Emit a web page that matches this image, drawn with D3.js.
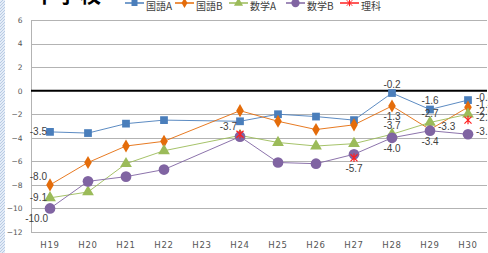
<!DOCTYPE html>
<html>
<head>
<meta charset="utf-8">
<script src="https://cdn.jsdelivr.net/npm/d3@7"></script>
<style>
  html, body { margin: 0; padding: 0; background: #fff; }
  svg { display: block; }
</style>
</head>
<body>
<svg width="488" height="253"></svg>
<script>
const categories = ['H19', 'H20', 'H21', 'H22', 'H23', 'H24', 'H25', 'H26', 'H27', 'H28', 'H29', 'H30'];
const seriesNames = ['国語A', '国語B', '数学A', '数学B', '理科'];
const kokugoA = [-3.5, -3.6, -2.8, -2.5, null, -2.6, -2.0, -2.2, -2.5, -0.2, -1.6, -0.8];
const kokugoB = [-8.0, -6.1, -4.7, -4.3, null, -1.7, -2.6, -3.3, -2.9, -1.3, -3.3, -1.4];
const sugakuA = [-9.1, -8.6, -6.2, -5.1, null, -3.8, -4.4, -4.7, -4.5, -3.7, -2.7, -2.0];
const sugakuB = [-10.0, -7.7, -7.3, -6.7, null, -3.9, -6.1, -6.2, -5.4, -4.0, -3.4, -3.7];
const rika = [null, null, null, null, null, -3.7, null, null, -5.7, null, null, -2.5];
const yTicks = [6, 4, 2, 0, -2, -4, -6, -8, -10, -12];

// which points carry a data label, and on which side
const labels = [
  { series: 0, cat: 'H19', pos: 'left' }, { series: 1, cat: 'H19', pos: 'leftUp' },
  { series: 2, cat: 'H19', pos: 'left' }, { series: 3, cat: 'H19', pos: 'leftDown' },
  { series: 4, cat: 'H24', pos: 'leftUp' }, { series: 4, cat: 'H27', pos: 'below' },
  { series: 0, cat: 'H28', pos: 'above' }, { series: 1, cat: 'H28', pos: 'below' },
  { series: 2, cat: 'H28', pos: 'above' }, { series: 3, cat: 'H28', pos: 'below' },
  { series: 0, cat: 'H29', pos: 'above' }, { series: 2, cat: 'H29', pos: 'above' },
  { series: 1, cat: 'H29', pos: 'right' }, { series: 3, cat: 'H29', pos: 'below' },
  { series: 0, cat: 'H30', pos: 'right' }, { series: 1, cat: 'H30', pos: 'right' },
  { series: 2, cat: 'H30', pos: 'right' }, { series: 4, cat: 'H30', pos: 'right' },
  { series: 3, cat: 'H30', pos: 'right' }
];

// Excel style star marker for 理科
const asterisk = {
  draw(context, size) {
    const r = Math.sqrt(size) / 2;
    context.moveTo(-r, -r); context.lineTo(r, r);
    context.moveTo(-r, r); context.lineTo(r, -r);
    context.moveTo(0, -r * 1.2); context.lineTo(0, r * 1.2);
  }
};

const colors = ['#4a7ebb', '#e46c0a', '#9bbb59', '#8064a2', '#ff2020'];
const symbols = [d3.symbolSquare, d3.symbolDiamond, d3.symbolTriangle, d3.symbolCircle, asterisk];
const symbolSizes = [60, 50, 60, 90, 50];
const values = [kokugoA, kokugoB, sugakuA, sugakuB, rika];

const series = seriesNames.map((name, i) => ({
  name,
  color: colors[i],
  symbol: symbols[i],
  size: symbolSizes[i],
  hasLine: i < 4,
  points: categories.map((c, j) => ({ cat: c, value: values[i][j] })).filter((d) => d.value !== null)
}));

const svg = d3.select('svg');

const x = d3.scaleBand().domain(categories).range([31, 487]);
const cx = (c) => x(c) + x.bandwidth() / 2;
const y = d3.scaleLinear().domain([-12, 6]).range([232, 20]);

// hatched strip on the left edge
const defs = svg.append('defs');
const pat = defs.append('pattern').attr('id', 'hatch')
  .attr('width', 3).attr('height', 3).attr('patternUnits', 'userSpaceOnUse');
pat.append('rect').attr('width', 3).attr('height', 3).attr('fill', '#e4ecf7');
pat.append('path').attr('d', 'M0 3 L3 0').attr('stroke', '#b8cbe4').attr('stroke-width', 1);
svg.append('rect').attr('x', 0).attr('y', 0).attr('width', 5).attr('height', 253).attr('fill', 'url(#hatch)');

// title, cut off by the top edge
svg.append('text')
  .attr('x', 34).attr('y', 2)
  .attr('font-family', 'Noto Sans CJK JP')
  .attr('font-weight', 'bold')
  .attr('font-size', 21)
  .attr('letter-spacing', 2)
  .attr('fill', '#000')
  .text('中学校');

// gridlines
svg.append('g')
  .selectAll('line')
  .data(yTicks.filter((t) => t !== 0))
  .join('line')
  .attr('x1', 31).attr('x2', 487)
  .attr('y1', (d) => Math.round(y(d)) + 0.5).attr('y2', (d) => Math.round(y(d)) + 0.5)
  .attr('stroke', '#b3b3b3').attr('stroke-width', 1);

// y axis
const yAxis = svg.append('g')
  .attr('transform', 'translate(31.5,0)')
  .call(d3.axisLeft(y).tickValues(yTicks).tickSize(0).tickPadding(9).tickFormat(d3.format('d')));
yAxis.select('.domain').attr('stroke', '#b3b3b3').attr('d', `M0,${y(6)}V${y(-12)}`);
yAxis.selectAll('text')
  .attr('font-family', 'DejaVu Sans').attr('font-size', 7.5).attr('fill', '#555');

// zero line
svg.append('line')
  .attr('x1', 31).attr('x2', 487)
  .attr('y1', y(0)).attr('y2', y(0))
  .attr('stroke', '#000').attr('stroke-width', 2);

// x labels
svg.append('g')
  .selectAll('text')
  .data(categories)
  .join('text')
  .attr('x', (d) => cx(d))
  .attr('y', 248)
  .attr('text-anchor', 'middle')
  .attr('font-family', 'DejaVu Sans')
  .attr('font-size', 8.5)
  .attr('letter-spacing', 0.8)
  .attr('fill', '#555')
  .text((d) => d);

// lines
const line = d3.line().x((d) => cx(d.cat)).y((d) => y(d.value));
svg.append('g')
  .selectAll('path')
  .data(series.filter((s) => s.hasLine))
  .join('path')
  .attr('d', (s) => line(s.points))
  .attr('fill', 'none')
  .attr('stroke', (s) => s.color)
  .attr('stroke-width', 1)
  .attr('stroke-opacity', 0.9);

// markers
const isStar = (s) => s.symbol === asterisk;
series.forEach((s) => {
  svg.append('g')
    .selectAll('path')
    .data(s.points)
    .join('path')
    .attr('transform', (d) => `translate(${cx(d.cat)},${y(d.value)})`)
    .attr('d', d3.symbol(s.symbol, s.size))
    .attr('fill', isStar(s) ? 'none' : s.color)
    .attr('stroke', isStar(s) ? s.color : 'none')
    .attr('stroke-width', 1.2);
});

// data labels
const offsets = {
  left: { dx: -3, dy: 0, anchor: 'end' },
  leftUp: { dx: -3, dy: -8, anchor: 'end' },
  leftDown: { dx: -2, dy: 10, anchor: 'end' },
  above: { dx: 0, dy: -9, anchor: 'middle' },
  below: { dx: 0, dy: 11, anchor: 'middle' },
  right: { dx: 8, dy: -3, anchor: 'start' }
};
svg.append('g')
  .selectAll('text')
  .data(labels)
  .join('text')
  .each(function (l) {
    const v = values[l.series][categories.indexOf(l.cat)];
    const o = offsets[l.pos];
    d3.select(this)
      .attr('x', cx(l.cat) + o.dx)
      .attr('y', y(v) + o.dy)
      .attr('dy', '0.35em')
      .attr('text-anchor', o.anchor)
      .text(v.toFixed(1));
  })
  .attr('font-family', 'Liberation Sans')
  .attr('font-size', 10)
  .attr('fill', '#404040');

// legend, also cut by the top edge
const legendX = [125, 175, 229, 286, 340];
const legend = svg.append('g')
  .selectAll('g')
  .data(series)
  .join('g')
  .attr('transform', (d, i) => `translate(${legendX[i]},3)`);
legend.append('line')
  .attr('x1', 0).attr('x2', 19)
  .attr('stroke', (d) => d.color).attr('stroke-width', 1.5);
legend.append('path')
  .attr('transform', 'translate(9.5,0)')
  .attr('d', (d) => d3.symbol(d.symbol, d.size * 0.6)())
  .attr('fill', (d) => (isStar(d) ? 'none' : d.color))
  .attr('stroke', (d) => (isStar(d) ? d.color : 'none'));
legend.append('text')
  .attr('x', 21).attr('y', 7)
  .attr('font-family', 'Noto Sans CJK JP')
  .attr('font-size', 10)
  .attr('fill', '#404040')
  .text((d) => d.name);
</script>
</body>
</html>
